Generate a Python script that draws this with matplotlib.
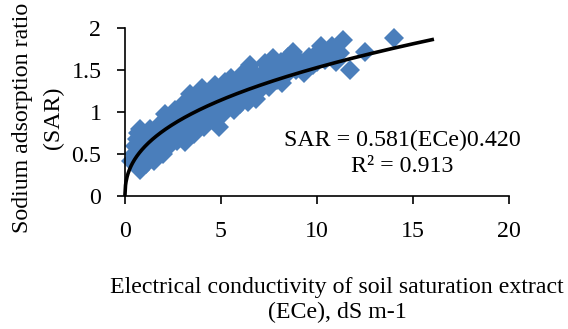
import numpy as np
import matplotlib
matplotlib.use("Agg")
import matplotlib.pyplot as plt

plt.rcParams['font.family'] = ['Liberation Serif', 'DejaVu Serif']

# Data
ece = [0.3, 0.45, 0.5, 0.6, 0.7, 0.8, 0.8, 0.9, 1.0, 1.0, 1.1, 1.2, 1.3, 1.4, 1.5,
       1.6, 1.7, 1.8, 1.9, 2.0, 2.1, 2.2, 2.3, 2.4, 2.5, 2.6, 2.7, 2.8, 2.9, 3.0,
       3.1, 3.2, 3.3, 3.4, 3.5, 3.6, 3.7, 3.8, 3.9, 4.0, 4.1, 4.2, 4.3, 4.4, 4.6,
       4.7, 4.8, 4.9, 5.0, 4.9, 5.2, 5.4, 5.5, 5.6, 5.8, 6.0, 6.1, 6.3, 6.5, 6.6,
       6.8, 7.0, 7.1, 7.3, 7.5, 7.7, 7.9, 8.0, 8.3, 8.5, 8.75, 8.9, 9.2, 9.3, 9.6,
       9.8, 10.2, 10.4, 10.6, 11.0, 11.35, 11.7, 12.5, 14.0,
       0.6, 0.9, 1.2, 1.5, 1.8, 2.0, 2.2, 2.5, 2.8, 3.0, 3.2, 3.5, 3.8, 4.0, 4.2,
       4.5, 4.5, 5.0, 5.2, 5.4, 5.7, 5.9, 6.2, 6.4, 6.7, 6.9, 7.2, 7.5, 7.8, 8.1,
       8.2, 8.6, 9.0, 9.5, 10.0, 10.0, 10.8, 11.2]
sar = [0.42, 0.50, 0.60, 0.68, 0.75, 0.80, 0.31, 0.45, 0.58, 0.70, 0.38, 0.52, 0.80, 0.65, 0.42,
       0.56, 0.72, 0.86, 0.62, 0.50, 0.98, 0.78, 0.60, 0.88, 0.70, 1.02, 0.66, 0.82, 0.95, 1.10,
       0.64, 0.78, 0.90, 1.22, 1.02, 0.74, 0.86, 1.12, 0.96, 1.28, 0.82, 1.05, 1.18, 0.92, 0.90,
       1.32, 1.00, 1.14, 1.24, 0.82, 1.36, 1.06, 1.40, 1.18, 1.28, 1.10, 1.45, 1.22, 1.56, 1.34,
       1.16, 1.25, 1.44, 1.58, 1.30, 1.64, 1.38, 1.52, 1.42, 1.66, 1.72, 1.50, 1.58, 1.46, 1.66,
       1.56, 1.78, 1.62, 1.70, 1.60, 1.86, 1.50, 1.71, 1.88,
       0.40, 0.62, 0.72, 0.75, 0.50, 0.70, 0.90, 0.85, 0.72, 0.85, 1.00, 0.88, 0.98, 1.10, 0.90,
       1.05, 1.22, 0.95, 1.15, 1.28, 1.02, 1.38, 1.28, 1.12, 1.46, 1.30, 1.34, 1.50, 1.48, 1.60,
       1.34, 1.50, 1.62, 1.52, 1.60, 1.70, 1.78, 1.70]

# Power trendline: SAR = a * ECe^b
coef_a = 0.581
coef_b = 0.420
trend_max = 16

x_ticks = [0, 5, 10, 15, 20]
y_ticks = [0, 0.5, 1, 1.5, 2]
y_tick_labels = ['0', '0.5', '1', '1.5', '2']

FS = 17.2
fig = plt.figure(figsize=(5.68, 3.29), dpi=100)
ax = fig.add_axes([125/568, 1-196/329, 384/568, 168/329])

ax.plot(ece, sar, linestyle='none', marker='D', markersize=10.2,
        color='#4A7EBB', markeredgewidth=0, clip_on=False, zorder=2)

xt = np.linspace(0.0005, trend_max, 600)
ax.plot(xt, coef_a * xt**coef_b, color='black', lw=2.6, zorder=3, clip_on=False)

ax.set_xlim(0, 20)
ax.set_ylim(0, 2)
ax.set_xticks(x_ticks)
ax.set_xticklabels([str(v) for v in x_ticks])
ax.set_yticks(y_ticks)
ax.set_yticklabels(y_tick_labels)
for s in ['top', 'right']:
    ax.spines[s].set_visible(False)
for s in ['left', 'bottom']:
    ax.spines[s].set_linewidth(1.2)
ax.tick_params(direction='out', length=6, width=1.2, labelsize=FS, pad=12)
ax.tick_params(axis='y', pad=11)

fig.text(337/568, 1-287/329, 'Electrical conductivity of soil saturation extract',
         ha='center', va='center', fontsize=FS)
fig.text(337/568, 1-312/329, '(ECe), dS m-1', ha='center', va='center', fontsize=FS)
fig.text(23/568, 1-118/329, 'Sodium adsorption ratio', rotation=90,
         ha='center', va='center', fontsize=FS)
fig.text(53/568, 1-118/329, '(SAR)', rotation=90, ha='center', va='center', fontsize=FS)

fig.text(402/568, 1-140/329, 'SAR = 0.581(ECe)0.420', ha='center', va='center', fontsize=FS)
fig.text(402/568, 1-167/329, 'R² = 0.913', ha='center', va='center', fontsize=FS)

fig.savefig('out.png', dpi=100)
